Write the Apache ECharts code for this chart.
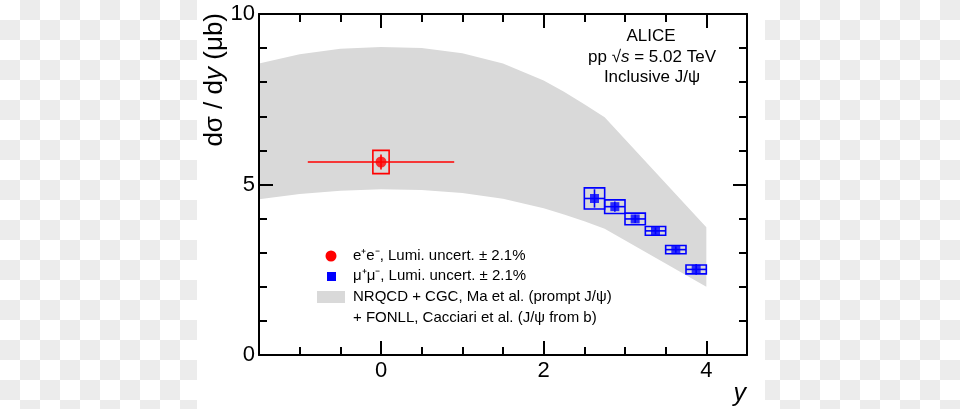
<!DOCTYPE html>
<html>
<head>
<meta charset="utf-8">
<script src="https://cdn.jsdelivr.net/npm/echarts@6/dist/echarts.min.js"></script>
<style>
  html, body { margin: 0; padding: 0; }
  body {
    width: 960px; height: 409px; position: relative; overflow: hidden;
    background: repeating-conic-gradient(#ececec 0 25%, #ffffff 0 50%) 0 0 / 40px 40px;
  }
  #paper { position: absolute; left: 197px; top: 0; width: 568px; height: 409px; background: #fff; }
  #main { position: absolute; left: 0; top: 0; width: 960px; height: 409px; }
</style>
</head>
<body>
<div id="paper"></div>
<div id="main"></div>
<script>
// theory band (NRQCD+CGC + FONLL), lower / upper edge
var bandRap  = [-1.5, -1, -0.5, 0, 0.5, 1, 1.5, 2, 2.25, 2.5, 2.75, 4];
var bandLow  = [4.57, 4.72, 4.82, 4.86, 4.84, 4.75, 4.58, 4.30, 4.12, 3.92, 3.70, 2.00];
var bandHigh = [8.55, 8.82, 8.98, 9.03, 9.00, 8.85, 8.55, 8.05, 7.72, 7.35, 6.97, 3.75];

// e+e- (midrapidity)
var eeRap = [0];
var eeVal = [5.66];
var eeRapErr = [0.9];
var eeStat = [0.22];
var eeSysW = [0.1];
var eeSys = [0.34];

// mu+mu- (forward)
var mmRap = [2.625, 2.875, 3.125, 3.375, 3.625, 3.875];
var mmVal = [4.59, 4.35, 3.99, 3.64, 3.09, 2.51];
var mmRapErr = [0.125, 0.125, 0.125, 0.125, 0.125, 0.125];
var mmStat = [0.27, 0.15, 0.12, 0.10, 0.09, 0.16];
var mmSysW = [0.125, 0.125, 0.125, 0.125, 0.125, 0.125];
var mmSys = [0.31, 0.20, 0.17, 0.13, 0.12, 0.13];

var xTicks = [0, 2, 4];
var yTicks = [0, 5, 10];

var FONT = "'Liberation Sans', Arial, Helvetica, sans-serif";

var myChart = echarts.init(document.getElementById('main'), null, { renderer: 'canvas' });

function rows(a, b, c, d, e, f) {
  return a.map(function (v, i) { return [v, b[i], c[i], d[i], e[i], f[i]]; });
}

// box + error bars
function errorItem(color) {
  return function (params, api) {
    var x = api.value(0), y = api.value(1);
    var ex = api.value(2), st = api.value(3), sw = api.value(4), sy = api.value(5);
    var p1 = api.coord([x - sw, y + sy]);
    var p2 = api.coord([x + sw, y - sy]);
    var l = api.coord([x - ex, y]), r = api.coord([x + ex, y]);
    var t = api.coord([x, y + st]), b = api.coord([x, y - st]);
    var ls = { stroke: color, lineWidth: 1.6 };
    return {
      type: 'group',
      children: [
        { type: 'rect', shape: { x: p1[0], y: p1[1], width: p2[0] - p1[0], height: p2[1] - p1[1] },
          style: { fill: null, stroke: color, lineWidth: 1.6 } },
        { type: 'line', shape: { x1: l[0], y1: l[1], x2: r[0], y2: r[1] }, style: ls },
        { type: 'line', shape: { x1: t[0], y1: t[1], x2: b[0], y2: b[1] }, style: ls }
      ]
    };
  };
}

var bandData = bandRap.map(function (x, i) { return [x, bandLow[i], bandHigh[i]]; });

function axisX(pos, major) {
  var a = {
    type: 'value', min: -1.5, max: 4.5, position: pos, gridIndex: 0, z: 10,
    axisLine: { show: major, onZero: false, lineStyle: { color: '#000', width: 2 } },
    splitLine: { show: false },
    axisLabel: { show: false }
  };
  if (major) {
    a.axisTick = { inside: true, length: 14, customValues: xTicks, lineStyle: { color: '#000', width: 2 } };
    if (pos === 'bottom') {
      a.axisLabel = { show: true, customValues: xTicks, fontSize: 22, margin: 5, color: '#000', fontFamily: FONT };
    }
  } else {
    a.interval = 0.5;
    a.axisTick = { inside: true, length: 8, lineStyle: { color: '#000', width: 2 } };
  }
  return a;
}

function axisY(pos) {
  return {
    type: 'value', min: 0, max: 10, interval: 5, position: pos, z: 10,
    axisLine: { show: true, onZero: false, lineStyle: { color: '#000', width: 2 } },
    axisTick: { inside: true, length: 14, lineStyle: { color: '#000', width: 2 } },
    minorTick: { show: true, splitNumber: 5, length: 8, lineStyle: { color: '#000', width: 2 } },
    splitLine: { show: false },
    axisLabel: pos === 'left'
      ? { show: true, fontSize: 22, margin: 4, color: '#000', fontFamily: FONT }
      : { show: false }
  };
}

var option = {
  animation: false,
  grid: { left: 259, right: 213, top: 14, bottom: 54, outerBoundsMode: 'none' },
  xAxis: [axisX('bottom', true), axisX('bottom', false), axisX('top', true), axisX('top', false)],
  yAxis: [axisY('left'), axisY('right')],
  series: [
    {
      name: 'band', type: 'custom', z: 1, data: bandData,
      encode: { x: 0, y: [1, 2] },
      renderItem: function (params, api) {
        if (params.dataIndex !== 0) return null;
        var pts = [];
        for (var i = 0; i < bandRap.length; i++) pts.push(api.coord([bandRap[i], bandHigh[i]]));
        for (var j = bandRap.length - 1; j >= 0; j--) pts.push(api.coord([bandRap[j], bandLow[j]]));
        return { type: 'polygon', shape: { points: pts }, style: { fill: '#d9d9d9' } };
      }
    },
    {
      name: 'ee err', type: 'custom', z: 3,
      data: rows(eeRap, eeVal, eeRapErr, eeStat, eeSysW, eeSys),
      encode: { x: 0, y: 1 }, renderItem: errorItem('#ff0000')
    },
    {
      name: 'mm err', type: 'custom', z: 3,
      data: rows(mmRap, mmVal, mmRapErr, mmStat, mmSysW, mmSys),
      encode: { x: 0, y: 1 }, renderItem: errorItem('#0000ff')
    },
    {
      name: 'ee', type: 'scatter', z: 4, symbol: 'circle', symbolSize: 11,
      itemStyle: { color: '#ff0000' },
      data: eeRap.map(function (x, i) { return [x, eeVal[i]]; })
    },
    {
      name: 'mm', type: 'scatter', z: 4, symbol: 'rect', symbolSize: 9,
      itemStyle: { color: '#0000ff' },
      data: mmRap.map(function (x, i) { return [x, mmVal[i]]; })
    }
  ],
  graphic: [
    // axis titles
    { type: 'text', x: 215, y: 13, rotation: Math.PI / 2,
      style: { text: 'd\u03c3 / d{i|y} (\u03bcb)', font: '26px ' + FONT, fill: '#000',
        align: 'right', verticalAlign: 'middle',
        rich: { i: { fontStyle: 'italic', fontSize: 26, fontFamily: FONT } } } },
    { type: 'text', x: 746, y: 394,
      style: { text: 'y', font: 'italic 25px ' + FONT, fill: '#000', align: 'right', verticalAlign: 'middle' } },
    // annotation
    { type: 'text', x: 651, y: 36,
      style: { text: 'ALICE', font: '17px ' + FONT, fill: '#000', align: 'center', verticalAlign: 'middle' } },
    { type: 'text', x: 652, y: 57,
      style: { text: 'pp \u221a{i|s} = 5.02 TeV', font: '17px ' + FONT, fill: '#000', align: 'center', verticalAlign: 'middle',
        rich: { i: { fontStyle: 'italic', fontSize: 17, fontFamily: FONT } } } },
    { type: 'text', x: 652, y: 77,
      style: { text: 'Inclusive J/\u03c8', font: '17px ' + FONT, fill: '#000', align: 'center', verticalAlign: 'middle' } },
    // legend
    { type: 'circle', shape: { cx: 331, cy: 256, r: 5.5 }, style: { fill: '#ff0000' } },
    { type: 'rect', shape: { x: 327, y: 272, width: 9, height: 9 }, style: { fill: '#0000ff' } },
    { type: 'rect', shape: { x: 317, y: 291, width: 28, height: 12 }, style: { fill: '#d9d9d9' } },
    { type: 'text', x: 353, y: 256,
      style: { text: 'e\u207ae\u207b, Lumi. uncert. \u00b1 2.1%', font: '15px ' + FONT, fill: '#000', verticalAlign: 'middle' } },
    { type: 'text', x: 353, y: 276,
      style: { text: '\u03bc\u207a\u03bc\u207b, Lumi. uncert. \u00b1 2.1%', font: '15px ' + FONT, fill: '#000', verticalAlign: 'middle' } },
    { type: 'text', x: 353, y: 297,
      style: { text: 'NRQCD + CGC, Ma et al. (prompt J/\u03c8)', font: '15px ' + FONT, fill: '#000', verticalAlign: 'middle' } },
    { type: 'text', x: 353, y: 318,
      style: { text: '+ FONLL, Cacciari et al. (J/\u03c8 from b)', font: '15px ' + FONT, fill: '#000', verticalAlign: 'middle' } }
  ]
};

myChart.setOption(option);
</script>
</body>
</html>
